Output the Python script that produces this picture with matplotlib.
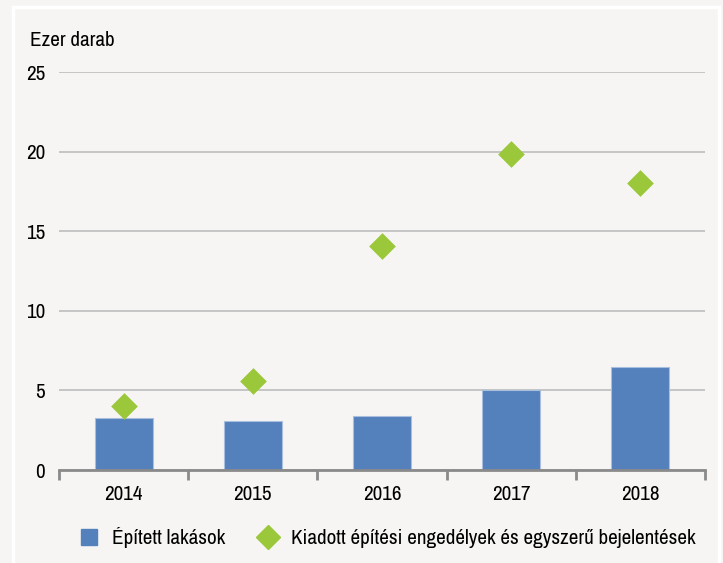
import matplotlib.pyplot as plt
from matplotlib.lines import Line2D
from matplotlib.patches import Rectangle

years = ['2014', '2015', '2016', '2017', '2018']
built = [3.25, 3.05, 3.37, 5.0, 6.5]
permits = [4.0, 5.58, 14.1, 19.85, 18.0]
yticks = [0, 5, 10, 15, 20, 25]

bar_color = '#5480bc'
dia_color = '#9bc73a'
bg = '#f6f5f3'

plt.rcParams['font.family'] = ['Archivo Narrow', 'Liberation Sans', 'DejaVu Sans']
fs = 15.2

fig = plt.figure(figsize=(7.23, 5.63), dpi=100, facecolor=bg)
W, H = 723, 563
ax = fig.add_axes([59 / W, 1 - 470 / H, (705 - 59) / W, (470 - 72) / H])
ax.set_facecolor(bg)

# white frame line
fig.patches.append(Rectangle((12.5 / W, -0.05), (718.5 - 12.5) / W, 1.05 - 7.5 / H,
                             transform=fig.transFigure, fill=False,
                             edgecolor='white', linewidth=2.5, zorder=0))

x = list(range(len(years)))
ax.bar(x, built, width=0.45, color=bar_color, edgecolor='#a9bfe0', linewidth=0.8, zorder=2)
ax.scatter(x, permits, marker='D', s=185, color=dia_color, zorder=3, linewidths=0)

ax.set_xlim(-0.5, len(years) - 0.5)
ax.set_ylim(0, 25)
ax.set_yticks(yticks)
ax.set_yticklabels([str(v) for v in yticks], fontsize=fs)
ax.yaxis.grid(True, color='#bdbdbd', linewidth=1.2)
ax.set_axisbelow(True)
ax.tick_params(axis='y', length=0, pad=10)

ax.set_xticks([i - 0.5 for i in range(len(years) + 1)], minor=False)
ax.set_xticklabels([])
ax.set_xticks(x, minor=True)
ax.set_xticklabels(years, minor=True, fontsize=fs)
ax.tick_params(axis='x', which='major', length=7, width=2, color='#8a8a8a', direction='out')
ax.tick_params(axis='x', which='minor', length=0, pad=11)

for s in ['top', 'right', 'left']:
    ax.spines[s].set_visible(False)
ax.spines['bottom'].set_color('#8a8a8a')
ax.spines['bottom'].set_linewidth(2)

fig.text(30 / W, 1 - 40 / H, 'Ezer darab', fontsize=fs, va='center', ha='left')

handles = [
    Line2D([], [], marker='s', linestyle='none', markersize=11.3, color=bar_color),
    Line2D([], [], marker='D', linestyle='none', markersize=12, color=dia_color),
]
fig.legend(handles, ['Épített lakások', 'Kiadott építési engedélyek és egyszerű bejelentések'],
           loc='center', bbox_to_anchor=(386 / W, 1 - 538 / H), ncol=2, frameon=False,
           fontsize=fs, handletextpad=0.5, columnspacing=1.4, handlelength=1.2)

fig.savefig('out.png', dpi=100, facecolor=bg)
